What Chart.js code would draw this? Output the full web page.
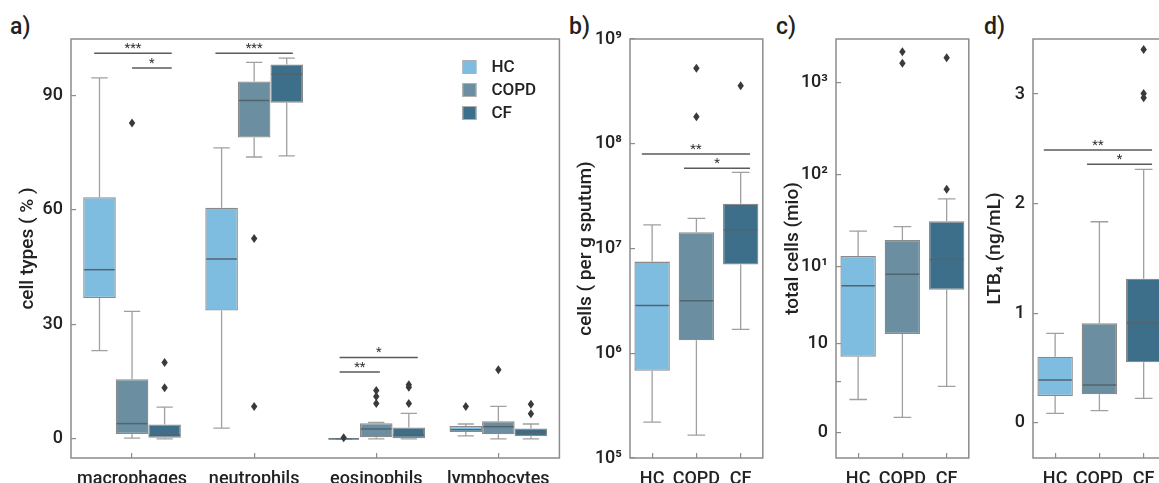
<!DOCTYPE html>
<html>
<head>
<meta charset="utf-8">
<script src="https://cdn.jsdelivr.net/npm/chart.js@4"></script>
<style>
  body { margin: 0; width: 1159px; height: 483px; overflow: hidden; background: #fff; position: relative; font-family: Roboto, sans-serif; }
  .panel { position: absolute; top: 0; height: 510px; }
  .tag { position: absolute; top: 15px; font-size: 23px; font-weight: 500; line-height: 1; color: #222; }
</style>
</head>
<body>
<div class="tag" style="left:10px">a)</div>
<div class="tag" style="left:569px">b)</div>
<div class="tag" style="left:776px">c)</div>
<div class="tag" style="left:984px">d)</div>
<div class="panel" style="left:0;width:566px"><canvas id="chartA"></canvas></div>
<div class="panel" style="left:566px;width:202px"><canvas id="chartB"></canvas></div>
<div class="panel" style="left:770px;width:204px"><canvas id="chartC"></canvas></div>
<div class="panel" style="left:970px;width:201px"><canvas id="chartD"></canvas></div>
<script>
const groups = ["HC", "COPD", "CF"];
const groupColors = ["#7fbde0", "#6b8ea0", "#3e6f8a"];

// a) cell types (%), stats per category: [min, q1, median, q3, max]
const cellTypes = ["macrophages", "neutrophils", "eosinophils", "lymphocytes"];
const cellHC = [[23.1, 36.9, 44.3, 63.3, 94.5], [2.8, 33.6, 47.1, 60.5, 76.2], [0, 0, 0, 0, 0], [0.8, 1.8, 2.4, 3.4, 3.9]];
const cellCOPD = [[0.2, 1.3, 4.0, 15.6, 33.4], [73.8, 78.9, 88.6, 93.6, 98.6], [0, 0.4, 2.6, 4.1, 4.3], [0, 1.2, 3.2, 4.6, 8.5]];
const cellCF = [[0, 0.3, 1.0, 3.8, 8.3], [74.1, 88.0, 95.5, 98.0, 99.7], [0, 0.2, 1.0, 3.0, 6.7], [0, 0.7, 1.8, 2.7, 3.9]];
const cellHCOut = [[], [], [0.3], [8.5]];
const cellCOPDOut = [[82.7], [52.5, 8.5], [9.3, 11.1, 12.7], [18.1]];
const cellCFOut = [[13.4, 20.0], [], [9.3, 13.5, 14.2], [6.6, 9.1]];
const cellTicks = [0, 30, 60, 90];
const cellSig = [
  { from: -0.31, to: 0.325, y: 101.0, label: "***" },
  { from: 0, to: 0.325, y: 97.1, label: "*" },
  { from: 0.683, to: 1.317, y: 101.0, label: "***" },
  { from: 1.70, to: 2.34, y: 21.3, label: "*" },
  { from: 1.70, to: 2.03, y: 17.5, label: "**" }
];

// b) cells per g sputum
const sputumStats = [[2.2e5, 6.8e5, 2.86e6, 7.5e6, 1.68e7], [1.65e5, 1.33e6, 3.17e6, 1.43e7, 1.94e7], [1.69e6, 7.05e6, 1.5e7, 2.67e7, 5.33e7]];
const sputumOut = [[], [1.81e8, 5.25e8], [3.58e8]];
const sputumTicks = [1e5, 1e6, 1e7, 1e8, 1e9];
const sputumTickLabels = ["10⁵", "10⁶", "10⁷", "10⁸", "10⁹"];
const sputumSig = [
  { from: -0.233, to: 2.21, y: 7.98e7, label: "**" },
  { from: 0.72, to: 2.21, y: 5.82e7, label: "*" }
];

// c) total cells (mio)
const totalStats = [[0.36, 1.05, 6.2, 13.1, 24.3], [0.23, 1.85, 8.3, 19.5, 27.2], [0.50, 5.6, 12.0, 31.1, 54.5]];
const totalOut = [[], [1625, 2170], [69.4, 1870]];
const totalTicks = [0.156, 0.562, 1.47, 10, 100, 1000];
const totalTickLabels = ["0", "", "10", "10¹", "10²", "10³"];

// d) LTB4 (ng/mL)
const ltbStats = [[0.086, 0.244, 0.39, 0.602, 0.815], [0.11, 0.259, 0.344, 0.907, 1.834], [0.223, 0.551, 0.912, 1.314, 2.312]];
const ltbOut = [[], [], [2.966, 3.005, 3.407]];
const ltbTicks = [0, 1, 2, 3];
const ltbSig = [
  { from: -0.256, to: 2.19, y: 2.49, label: "**" },
  { from: 0.72, to: 2.19, y: 2.36, label: "*" }
];

const FONT = "Roboto";
const LINE = "#8c8c8c";
const tickFont = { family: FONT, size: 18, weight: "500" };

const boxPlot = {
  id: "boxPlot",
  afterDatasetsDraw(chart, args, opts) {
    const { ctx, chartArea: a, scales: { x, y } } = chart;
    const py = v => y.getPixelForValue(v);
    ctx.save();
    chart.data.datasets.forEach((ds, di) => {
      chart.getDatasetMeta(di).data.forEach((bar, i) => {
        const s = ds.stats[i];
        if (!s) return;
        const cx = bar.x, w = bar.width;
        ctx.strokeStyle = "#a0a0a0";
        ctx.lineWidth = 1.3;
        ctx.beginPath();
        ctx.moveTo(cx, py(s[3])); ctx.lineTo(cx, py(s[4]));
        ctx.moveTo(cx - w / 4, py(s[4])); ctx.lineTo(cx + w / 4, py(s[4]));
        ctx.moveTo(cx, py(s[1])); ctx.lineTo(cx, py(s[0]));
        ctx.moveTo(cx - w / 4, py(s[0])); ctx.lineTo(cx + w / 4, py(s[0]));
        ctx.stroke();
        ctx.strokeStyle = "#51646f";
        ctx.lineWidth = 1.5;
        ctx.beginPath();
        ctx.moveTo(cx - w / 2 + 1, py(s[2])); ctx.lineTo(cx + w / 2 - 1, py(s[2]));
        ctx.stroke();
        ctx.fillStyle = "#3a3a3a";
        (ds.outliers[i] || []).forEach(v => {
          const oy = py(v);
          ctx.beginPath();
          ctx.moveTo(cx, oy - 4.5); ctx.lineTo(cx + 3.2, oy);
          ctx.lineTo(cx, oy + 4.5); ctx.lineTo(cx - 3.2, oy);
          ctx.closePath(); ctx.fill();
        });
      });
    });

    // significance brackets
    ctx.textAlign = "center";
    ctx.textBaseline = "bottom";
    ctx.font = "13px " + FONT;
    (opts.sig || []).forEach(s => {
      const x1 = x.getPixelForValue(s.from), x2 = x.getPixelForValue(s.to), sy = py(s.y);
      ctx.strokeStyle = "#5a5a5a";
      ctx.lineWidth = 1.5;
      ctx.beginPath(); ctx.moveTo(x1, sy); ctx.lineTo(x2, sy); ctx.stroke();
      ctx.fillStyle = "#333";
      ctx.fillText(s.label, (x1 + x2) / 2, sy + 2);
    });

    // legend inside plot
    if (opts.legend) {
      ctx.textAlign = "left";
      ctx.textBaseline = "middle";
      ctx.font = "500 17px " + FONT;
      groups.forEach((g, i) => {
        const lx = a.right - 97, ly = a.top + 28 + i * 23;
        ctx.fillStyle = groupColors[i];
        ctx.fillRect(lx, ly - 7, 14, 14);
        ctx.strokeStyle = "#b0b0b0";
        ctx.lineWidth = 1;
        ctx.strokeRect(lx + 0.5, ly - 6.5, 13, 13);
        ctx.fillStyle = "#222";
        ctx.fillText(g, lx + 29, ly + 1);
      });
    }

    ctx.strokeStyle = LINE;
    ctx.lineWidth = 1.5;
    ctx.strokeRect(a.left, a.top, a.right - a.left, a.bottom - a.top);
    ctx.restore();
  }
};

function xAxis() {
  return {
    grid: { offset: false, drawOnChartArea: false, tickLength: -5, color: LINE, lineWidth: 1.2 },
    border: { display: false },
    ticks: { padding: 16, autoSkip: false, maxRotation: 0, minRotation: 0, color: "#222", font: tickFont },
    afterFit: s => { s.height = 52; }
  };
}

function yAxis(width, title, titlePad, extra) {
  return Object.assign({
    grid: { drawOnChartArea: false, tickLength: -5, color: LINE, lineWidth: 1.2 },
    border: { display: false },
    title: { display: true, text: title, color: "#222", font: { family: FONT, size: 19, weight: "500" }, padding: { top: titlePad, bottom: 0 } },
    afterFit: s => { s.width = width; }
  }, extra);
}

function baseOptions(scales, plug) {
  return {
    responsive: true,
    maintainAspectRatio: false,
    animation: false,
    layout: { padding: { top: 39, right: 3, left: 0, bottom: 0 } },
    plugins: { legend: { display: false }, tooltip: { enabled: false }, boxPlot: plug },
    scales: scales
  };
}

// a)
const statsA = [cellHC, cellCOPD, cellCF];
const outA = [cellHCOut, cellCOPDOut, cellCFOut];
new Chart(document.getElementById("chartA"), {
  type: "bar",
  data: {
    labels: cellTypes,
    datasets: groups.map((g, gi) => ({
      label: g,
      data: statsA[gi].map(s => [s[1], s[3]]),
      stats: statsA[gi],
      outliers: outA[gi],
      backgroundColor: groupColors[gi],
      borderColor: "#8a8a8a",
      borderWidth: 1.3,
      borderSkipped: false,
      categoryPercentage: 0.8,
      barPercentage: 1
    }))
  },
  options: baseOptions({
    x: xAxis(),
    y: yAxis(71, "cell types ( % )", 17, {
      min: -5, max: 104.7,
      afterBuildTicks: s => { s.ticks = cellTicks.map(v => ({ value: v })); },
      ticks: { padding: 13, color: "#222", font: tickFont }
    })
  }, { sig: cellSig, legend: true }),
  plugins: [boxPlot]
});

function singleBox(id, stats, outs, yOpts, sig) {
  return new Chart(document.getElementById(id), {
    type: "bar",
    data: {
      labels: groups,
      datasets: [{
        data: stats.map(s => [s[1], s[3]]),
        stats: stats,
        outliers: outs,
        backgroundColor: groupColors,
        borderColor: "#8a8a8a",
        borderWidth: 1.3,
        borderSkipped: false,
        categoryPercentage: 0.8,
        barPercentage: 1
      }]
    },
    options: baseOptions({ x: xAxis(), y: yOpts }, { sig: sig }),
    plugins: [boxPlot]
  });
}

// b)
singleBox("chartB", sputumStats, sputumOut, yAxis(64, "cells ( per g sputum)", 9, {
  type: "logarithmic", min: 1e5, max: 1e9,
  afterBuildTicks: s => { s.ticks = sputumTicks.map(v => ({ value: v })); },
  ticks: { padding: 13, color: "#222", font: tickFont, callback: (v, i) => sputumTickLabels[i] }
}), sputumSig);

// c)
singleBox("chartC", totalStats, totalOut, yAxis(66, "total cells (mio)", 12, {
  type: "logarithmic", min: 0.0833, max: 2985,
  afterBuildTicks: s => { s.ticks = totalTicks.map(v => ({ value: v })); },
  ticks: { padding: 13, color: "#222", font: tickFont, callback: (v, i) => totalTickLabels[i] }
}), []);

// d)
singleBox("chartD", ltbStats, ltbOut, yAxis(63, "LTB₄ (ng/mL)", 14, {
  min: -0.322, max: 3.502,
  afterBuildTicks: s => { s.ticks = ltbTicks.map(v => ({ value: v })); },
  ticks: { padding: 13, color: "#222", font: tickFont }
}), ltbSig);
</script>
</body>
</html>
